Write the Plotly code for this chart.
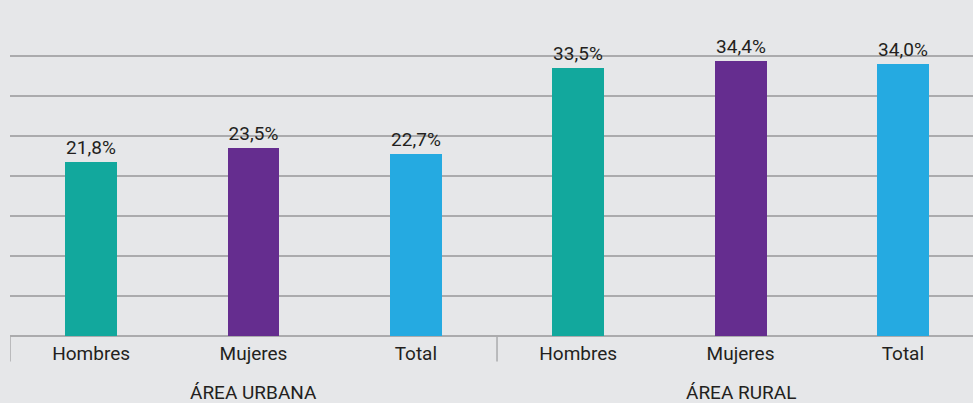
import plotly.graph_objects as go

# Data
areas = ["ÁREA URBANA", "ÁREA RURAL"]
groups = ["Hombres", "Mujeres", "Total"]
urbana = [21.8, 23.5, 22.7]
rural = [33.5, 34.4, 34.0]
colors = ["#12a89d", "#652d8f", "#25aae1"]

values = urbana + rural
labels = groups + groups
positions = list(range(len(values)))
bar_colors = colors + colors
texts = [f"{v:.1f}%".replace(".", ",") for v in values]

FONT = "Roboto, sans-serif"
TEXT_COLOR = "#231f20"
GRID = "#ababad"
SIZE = 19

fig = go.Figure(
    go.Bar(
        x=positions,
        y=values,
        marker=dict(color=bar_colors, line=dict(width=0)),
        width=0.32,
        text=texts,
        textposition="outside",
        textfont=dict(family=FONT, size=SIZE, color=TEXT_COLOR),
        cliponaxis=False,
        hoverinfo="skip",
    )
)

# Group separators below the baseline
for xs in [-0.5, 2.5, 5.5]:
    fig.add_shape(
        type="line", xref="x", yref="paper",
        x0=xs, x1=xs, y0=0, y1=-0.08,
        line=dict(color=GRID, width=1.5),
    )

# Area labels
for i, area in enumerate(areas):
    fig.add_annotation(
        x=i * 3 + 1, y=-0.175, xref="x", yref="paper",
        text=area, showarrow=False, yanchor="middle",
        font=dict(family=FONT, size=SIZE, color=TEXT_COLOR),
    )

fig.update_layout(
    width=973, height=403,
    margin=dict(l=10, r=0, t=16, b=67),
    paper_bgcolor="#e6e7e9",
    plot_bgcolor="#e6e7e9",
    showlegend=False,
    bargap=0,
)
fig.update_xaxes(
    range=[-0.5, 5.432],
    tickvals=positions,
    ticktext=labels,
    tickfont=dict(family=FONT, size=SIZE, color=TEXT_COLOR),
    showgrid=False,
    zeroline=False,
    showline=False,
    ticks="",
    ticklabelstandoff=4,
)
fig.update_yaxes(
    range=[0, 40],
    dtick=5,
    showticklabels=False,
    showgrid=True,
    gridcolor=GRID,
    gridwidth=1.5,
    zeroline=True,
    zerolinecolor=GRID,
    zerolinewidth=1.5,
)

fig.write_html("out.html")
